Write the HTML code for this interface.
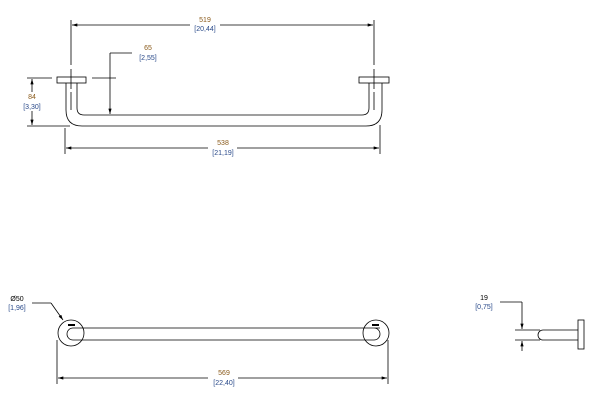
<!DOCTYPE html>
<html><head><style>
body{margin:0;background:#fff;}
svg{display:block;}
text{font-family:"Liberation Sans",sans-serif;font-size:7px;text-anchor:middle;}
.o{fill:#8a5a1a}.b{fill:#2a4a8a}
</style></head><body>
<svg width="610" height="420" viewBox="0 0 610 420" xmlns="http://www.w3.org/2000/svg">
<defs>
<marker id="a" viewBox="0 0 10 6" refX="10" refY="3" markerWidth="7" markerHeight="4" orient="auto-start-reverse"><path d="M0,0L10,3L0,6z" fill="#000"/></marker>
</defs>
<g stroke="#000" stroke-width="0.8" fill="none">
<line x1="71" y1="20" x2="71" y2="110" stroke-dasharray="45,4,20,3"/>
<line x1="374" y1="20" x2="374" y2="110" stroke-dasharray="45,4,20,3"/>
<line x1="72" y1="25" x2="190" y2="25" marker-start="url(#a)"/>
<line x1="220" y1="25" x2="373" y2="25" marker-end="url(#a)"/>
<rect x="57" y="77" width="29" height="6"/>
<rect x="359" y="77" width="30" height="6"/>
<path d="M66,83 V110 Q66,126 82,126 H366 Q382,126 382,110 V83"/>
<path d="M77,83 V108 Q77,115 84,115 H362 Q369,115 369,108 V83"/>
<line x1="110" y1="53" x2="132" y2="53"/>
<line x1="110" y1="53" x2="110" y2="114" marker-end="url(#a)"/>
<line x1="92" y1="78" x2="116" y2="78"/>
<line x1="27" y1="78" x2="52" y2="78"/>
<line x1="27" y1="126" x2="70" y2="126"/>
<line x1="32" y1="79" x2="32" y2="125" marker-start="url(#a)" marker-end="url(#a)"/>
<line x1="65" y1="128" x2="65" y2="154"/>
<line x1="380" y1="125" x2="380" y2="154"/>
<line x1="66" y1="148" x2="208" y2="148" marker-start="url(#a)"/>
<line x1="237" y1="148" x2="379" y2="148" marker-end="url(#a)"/>
<circle cx="71" cy="333" r="13"/>
<circle cx="376" cy="333" r="13"/>
<path d="M380,328 H73 A6,6 0 0 0 73,340 H374 A6,6 0 0 0 374,328"/>
<line x1="32" y1="303" x2="51" y2="303"/>
<line x1="51" y1="303" x2="63" y2="320" marker-end="url(#a)"/>
<line x1="57" y1="340" x2="57" y2="384"/>
<line x1="388" y1="340" x2="388" y2="384"/>
<line x1="58" y1="378" x2="208" y2="378" marker-start="url(#a)"/>
<line x1="238" y1="378" x2="387" y2="378" marker-end="url(#a)"/>
<rect x="578" y="320" width="6" height="29"/>
<path d="M578,330 H543 A5,5 0 0 0 543,340 H578"/>
<line x1="500" y1="302" x2="522" y2="302"/>
<line x1="522" y1="302" x2="522" y2="329" marker-end="url(#a)"/>
<line x1="522" y1="351" x2="522" y2="341" marker-end="url(#a)"/>
<line x1="515" y1="330" x2="540" y2="330"/>
<line x1="515" y1="340" x2="540" y2="340"/>
</g>
<rect x="22" y="92" width="20" height="19" fill="#fff"/>
<rect x="68" y="324" width="7" height="2" fill="#000"/>
<rect x="372" y="324" width="7" height="2" fill="#000"/>
<text x="205" y="22" class="o">519</text><text x="205" y="31" class="b">[20,44]</text>
<text x="148" y="50" class="o">65</text><text x="148" y="60" class="b">[2,55]</text>
<text x="32" y="99" class="o">84</text><text x="32" y="109" class="b">[3,30]</text>
<text x="223" y="145" class="o">538</text><text x="223" y="155" class="b">[21,19]</text>
<text x="17" y="301">Ø50</text><text x="17" y="310" class="b">[1,96]</text>
<text x="224" y="375" class="o">569</text><text x="224" y="385" class="b">[22,40]</text>
<text x="484" y="300">19</text><text x="484" y="309" class="b">[0,75]</text>
</svg>
</body></html>
